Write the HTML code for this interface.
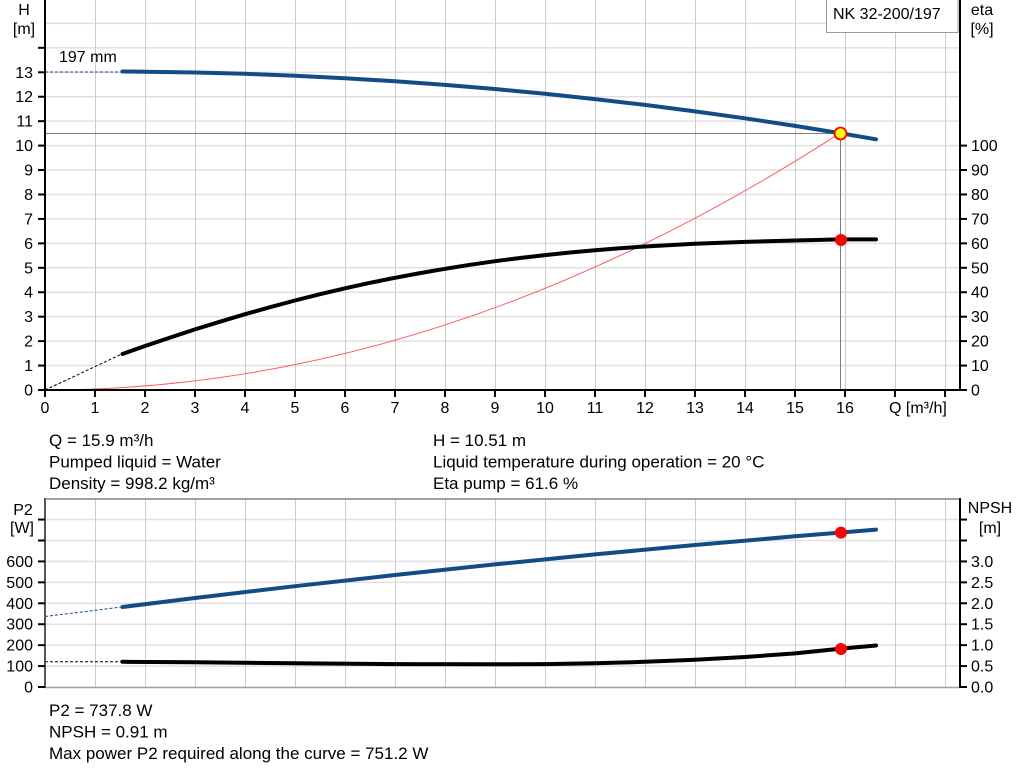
<!DOCTYPE html>
<html>
<head>
<meta charset="utf-8">
<style>
html,body{margin:0;padding:0;background:#fff;}
svg{display:block;}
text{font-family:"Liberation Sans",Arial,sans-serif;fill:#000;}
.t{font-size:16px;}
.i{font-size:17px;}
</style>
</head>
<body>
<svg width="1024" height="781" viewBox="0 0 1024 781" xmlns="http://www.w3.org/2000/svg">
<!-- ===== TOP CHART ===== -->
<g stroke="#e0e0e0" stroke-width="1.5">
<line x1="45" x2="960" y1="365.56" y2="365.56"/>
<line x1="45" x2="960" y1="341.12" y2="341.12"/>
<line x1="45" x2="960" y1="316.68" y2="316.68"/>
<line x1="45" x2="960" y1="292.24" y2="292.24"/>
<line x1="45" x2="960" y1="267.8" y2="267.8"/>
<line x1="45" x2="960" y1="243.36" y2="243.36"/>
<line x1="45" x2="960" y1="218.92" y2="218.92"/>
<line x1="45" x2="960" y1="194.48" y2="194.48"/>
<line x1="45" x2="960" y1="170.04" y2="170.04"/>
<line x1="45" x2="960" y1="145.6" y2="145.6"/>
<line x1="45" x2="960" y1="121.16" y2="121.16"/>
<line x1="45" x2="960" y1="96.72" y2="96.72"/>
<line x1="45" x2="960" y1="72.28" y2="72.28"/>
<line x1="45" x2="960" y1="47.84" y2="47.84"/>
<line x1="45" x2="960" y1="23.4" y2="23.4"/>
</g>
<g stroke="#cccccc" stroke-width="1">
<line x1="95.5" x2="95.5" y1="0" y2="390"/>
<line x1="145.5" x2="145.5" y1="0" y2="390"/>
<line x1="195.5" x2="195.5" y1="0" y2="390"/>
<line x1="245.5" x2="245.5" y1="0" y2="390"/>
<line x1="295.5" x2="295.5" y1="0" y2="390"/>
<line x1="345.5" x2="345.5" y1="0" y2="390"/>
<line x1="395.5" x2="395.5" y1="0" y2="390"/>
<line x1="445.5" x2="445.5" y1="0" y2="390"/>
<line x1="495.5" x2="495.5" y1="0" y2="390"/>
<line x1="545.5" x2="545.5" y1="0" y2="390"/>
<line x1="595.5" x2="595.5" y1="0" y2="390"/>
<line x1="645.5" x2="645.5" y1="0" y2="390"/>
<line x1="695.5" x2="695.5" y1="0" y2="390"/>
<line x1="745.5" x2="745.5" y1="0" y2="390"/>
<line x1="795.5" x2="795.5" y1="0" y2="390"/>
<line x1="845.5" x2="845.5" y1="0" y2="390"/>
<line x1="895.5" x2="895.5" y1="0" y2="390"/>
<line x1="945.5" x2="945.5" y1="0" y2="390"/>
</g>

<!-- operating point guide lines -->
<line x1="45" x2="840" y1="133.5" y2="133.5" stroke="#808080" stroke-width="1"/>
<line x1="840.5" x2="840.5" y1="133" y2="390" stroke="#808080" stroke-width="1"/>

<!-- system curve -->
<path d="M45,390 Q442.5,390 840,133.1" fill="none" stroke="#ff5a5a" stroke-width="1"/>

<!-- H curve -->
<line x1="45" y1="72" x2="122" y2="72" stroke="#134b86" stroke-width="1" stroke-dasharray="3,2"/>
<polyline fill="none" stroke="#134b86" stroke-width="4" stroke-linecap="round" stroke-linejoin="round"
points="122.5,71.5 145,71.7 195,72.5 245,73.8 295,75.8 345,78.2 395,81.3 445,84.9 495,89.05 545,93.8 595,99.1 645,104.9 695,111.4 745,118.3 795,125.9 840,133.1 876,139.3"/>

<!-- eta curve -->
<line x1="45" y1="390" x2="122" y2="354" stroke="#000" stroke-width="1" stroke-dasharray="3,2"/>
<polyline fill="none" stroke="#000" stroke-width="4" stroke-linecap="round" stroke-linejoin="round"
points="122.5,354 145,346 170,337.6 195,329.4 220,321.7 245,314.2 270,307.2 295,300.5 320,294.2 345,288.3 370,282.8 395,277.8 420,273.1 445,268.8 470,264.8 495,261.2 520,258 545,255.1 570,252.5 595,250.2 620,248.2 645,246.5 695,243.8 745,241.9 795,240.5 840,239.4 876,239.4"/>

<circle cx="841" cy="240" r="6" fill="#ff0000"/>
<circle cx="840.5" cy="133.5" r="6" fill="#ffff00" stroke="#ff0000" stroke-width="1.8"/>

<!-- axes -->
<line x1="45" y1="0" x2="45" y2="391" stroke="#000" stroke-width="2"/>
<line x1="44" y1="390" x2="961" y2="390" stroke="#000" stroke-width="2"/>
<line x1="960" y1="0" x2="960" y2="391" stroke="#000" stroke-width="2"/>

<!-- left ticks -->
<g stroke="#000" stroke-width="2">
<line x1="38" x2="45" y1="390" y2="390"/>
<line x1="38" x2="45" y1="365.56" y2="365.56"/>
<line x1="38" x2="45" y1="341.12" y2="341.12"/>
<line x1="38" x2="45" y1="316.68" y2="316.68"/>
<line x1="38" x2="45" y1="292.24" y2="292.24"/>
<line x1="38" x2="45" y1="267.8" y2="267.8"/>
<line x1="38" x2="45" y1="243.36" y2="243.36"/>
<line x1="38" x2="45" y1="218.92" y2="218.92"/>
<line x1="38" x2="45" y1="194.48" y2="194.48"/>
<line x1="38" x2="45" y1="170.04" y2="170.04"/>
<line x1="38" x2="45" y1="145.6" y2="145.6"/>
<line x1="38" x2="45" y1="121.16" y2="121.16"/>
<line x1="38" x2="45" y1="96.72" y2="96.72"/>
<line x1="38" x2="45" y1="72.28" y2="72.28"/>
<line x1="38" x2="45" y1="47.84" y2="47.84"/>
<!-- right ticks -->
<line x1="960" x2="967" y1="390" y2="390"/>
<line x1="960" x2="967" y1="365.56" y2="365.56"/>
<line x1="960" x2="967" y1="341.12" y2="341.12"/>
<line x1="960" x2="967" y1="316.68" y2="316.68"/>
<line x1="960" x2="967" y1="292.24" y2="292.24"/>
<line x1="960" x2="967" y1="267.8" y2="267.8"/>
<line x1="960" x2="967" y1="243.36" y2="243.36"/>
<line x1="960" x2="967" y1="218.92" y2="218.92"/>
<line x1="960" x2="967" y1="194.48" y2="194.48"/>
<line x1="960" x2="967" y1="170.04" y2="170.04"/>
<line x1="960" x2="967" y1="145.6" y2="145.6"/>
<!-- x ticks -->
<line x1="45" x2="45" y1="390" y2="397"/>
<line x1="95" x2="95" y1="390" y2="397"/>
<line x1="145" x2="145" y1="390" y2="397"/>
<line x1="195" x2="195" y1="390" y2="397"/>
<line x1="245" x2="245" y1="390" y2="397"/>
<line x1="295" x2="295" y1="390" y2="397"/>
<line x1="345" x2="345" y1="390" y2="397"/>
<line x1="395" x2="395" y1="390" y2="397"/>
<line x1="445" x2="445" y1="390" y2="397"/>
<line x1="495" x2="495" y1="390" y2="397"/>
<line x1="545" x2="545" y1="390" y2="397"/>
<line x1="595" x2="595" y1="390" y2="397"/>
<line x1="645" x2="645" y1="390" y2="397"/>
<line x1="695" x2="695" y1="390" y2="397"/>
<line x1="745" x2="745" y1="390" y2="397"/>
<line x1="795" x2="795" y1="390" y2="397"/>
<line x1="845" x2="845" y1="390" y2="397"/>
<line x1="895" x2="895" y1="390" y2="397"/>
<line x1="945" x2="945" y1="390" y2="397"/>
</g>

<!-- left labels -->
<g class="t" text-anchor="end">
<text x="33" y="395.5">0</text>
<text x="33" y="371">1</text>
<text x="33" y="346.6">2</text>
<text x="33" y="322.2">3</text>
<text x="33" y="297.7">4</text>
<text x="33" y="273.3">5</text>
<text x="33" y="248.9">6</text>
<text x="33" y="224.4">7</text>
<text x="33" y="200">8</text>
<text x="33" y="175.5">9</text>
<text x="33" y="151.1">10</text>
<text x="33" y="126.7">11</text>
<text x="33" y="102.2">12</text>
<text x="33" y="77.8">13</text>
</g>
<g class="t">
<text x="971" y="395.5">0</text>
<text x="971" y="371">10</text>
<text x="971" y="346.6">20</text>
<text x="971" y="322.2">30</text>
<text x="971" y="297.7">40</text>
<text x="971" y="273.3">50</text>
<text x="971" y="248.9">60</text>
<text x="971" y="224.4">70</text>
<text x="971" y="200">80</text>
<text x="971" y="175.5">90</text>
<text x="971" y="151.1">100</text>
</g>
<g class="t" text-anchor="middle">
<text x="45" y="413">0</text>
<text x="95" y="413">1</text>
<text x="145" y="413">2</text>
<text x="195" y="413">3</text>
<text x="245" y="413">4</text>
<text x="295" y="413">5</text>
<text x="345" y="413">6</text>
<text x="395" y="413">7</text>
<text x="445" y="413">8</text>
<text x="495" y="413">9</text>
<text x="545" y="413">10</text>
<text x="595" y="413">11</text>
<text x="645" y="413">12</text>
<text x="695" y="413">13</text>
<text x="745" y="413">14</text>
<text x="795" y="413">15</text>
<text x="845" y="413">16</text>
</g>
<text class="t" x="889" y="413">Q [m³/h]</text>

<text class="t" x="24" y="15" text-anchor="middle">H</text>
<text class="t" x="24" y="34" text-anchor="middle">[m]</text>
<text class="t" x="982" y="15" text-anchor="middle">eta</text>
<text class="t" x="982" y="34" text-anchor="middle">[%]</text>
<text class="t" x="59" y="62">197 mm</text>

<rect x="826.5" y="-1" width="131.5" height="33.5" fill="#fff" stroke="#999" stroke-width="1"/>
<text class="t" x="833" y="19">NK 32-200/197</text>

<!-- info text top -->
<g class="i">
<text x="49" y="446">Q = 15.9 m³/h</text>
<text x="49" y="467.5">Pumped liquid = Water</text>
<text x="49" y="489">Density = 998.2 kg/m³</text>
<text x="433" y="446">H = 10.51 m</text>
<text x="433" y="467.5">Liquid temperature during operation = 20 °C</text>
<text x="433" y="489">Eta pump = 61.6 %</text>
</g>

<!-- ===== BOTTOM CHART ===== -->
<g stroke="#e0e0e0" stroke-width="1.5">
<line x1="45" x2="960" y1="666.07" y2="666.07"/>
<line x1="45" x2="960" y1="645.14" y2="645.14"/>
<line x1="45" x2="960" y1="624.21" y2="624.21"/>
<line x1="45" x2="960" y1="603.28" y2="603.28"/>
<line x1="45" x2="960" y1="582.35" y2="582.35"/>
<line x1="45" x2="960" y1="561.42" y2="561.42"/>
<line x1="45" x2="960" y1="540.49" y2="540.49"/>
<line x1="45" x2="960" y1="519.56" y2="519.56"/>
</g>
<g stroke="#cccccc" stroke-width="1">
<line x1="95.5" x2="95.5" y1="499" y2="687"/>
<line x1="145.5" x2="145.5" y1="499" y2="687"/>
<line x1="195.5" x2="195.5" y1="499" y2="687"/>
<line x1="245.5" x2="245.5" y1="499" y2="687"/>
<line x1="295.5" x2="295.5" y1="499" y2="687"/>
<line x1="345.5" x2="345.5" y1="499" y2="687"/>
<line x1="395.5" x2="395.5" y1="499" y2="687"/>
<line x1="445.5" x2="445.5" y1="499" y2="687"/>
<line x1="495.5" x2="495.5" y1="499" y2="687"/>
<line x1="545.5" x2="545.5" y1="499" y2="687"/>
<line x1="595.5" x2="595.5" y1="499" y2="687"/>
<line x1="645.5" x2="645.5" y1="499" y2="687"/>
<line x1="695.5" x2="695.5" y1="499" y2="687"/>
<line x1="745.5" x2="745.5" y1="499" y2="687"/>
<line x1="795.5" x2="795.5" y1="499" y2="687"/>
<line x1="845.5" x2="845.5" y1="499" y2="687"/>
<line x1="895.5" x2="895.5" y1="499" y2="687"/>
<line x1="945.5" x2="945.5" y1="499" y2="687"/>
</g>
<line x1="45" y1="499" x2="960" y2="499" stroke="#a0a0a0" stroke-width="2"/>
<line x1="45" y1="687.5" x2="960" y2="687.5" stroke="#a0a0a0" stroke-width="1.5"/>

<!-- P2 curve -->
<line x1="45" y1="616.5" x2="122" y2="607" stroke="#134b86" stroke-width="1" stroke-dasharray="3,2"/>
<polyline fill="none" stroke="#134b86" stroke-width="4" stroke-linecap="round" stroke-linejoin="round"
points="122.5,607 195,598 295,586.2 395,575 495,564.4 595,554.4 695,545.05 795,536.3 840,532.6 876,529.6"/>

<!-- NPSH curve -->
<line x1="45" y1="661.8" x2="122" y2="661.8" stroke="#000" stroke-width="1" stroke-dasharray="3,2"/>
<polyline fill="none" stroke="#000" stroke-width="4" stroke-linecap="round" stroke-linejoin="round"
points="122.5,661.8 195,662.2 295,663.3 395,664.1 495,664.3 545,664.1 595,663.3 645,661.8 695,659.7 745,657 795,653.4 840,648.8 876,645.5"/>

<circle cx="841" cy="532.6" r="6" fill="#ff0000"/>
<circle cx="841" cy="649" r="6" fill="#ff0000"/>

<line x1="45" y1="498" x2="45" y2="688" stroke="#555" stroke-width="2"/>
<line x1="960" y1="498" x2="960" y2="688" stroke="#000" stroke-width="2"/>

<g stroke="#000" stroke-width="2">
<line x1="38" x2="45" y1="687" y2="687"/>
<line x1="38" x2="45" y1="666.07" y2="666.07"/>
<line x1="38" x2="45" y1="645.14" y2="645.14"/>
<line x1="38" x2="45" y1="624.21" y2="624.21"/>
<line x1="38" x2="45" y1="603.28" y2="603.28"/>
<line x1="38" x2="45" y1="582.35" y2="582.35"/>
<line x1="38" x2="45" y1="561.42" y2="561.42"/>
<line x1="38" x2="45" y1="540.49" y2="540.49"/>
<line x1="38" x2="45" y1="519.56" y2="519.56"/>
<line x1="960" x2="967" y1="687" y2="687"/>
<line x1="960" x2="967" y1="666.07" y2="666.07"/>
<line x1="960" x2="967" y1="645.14" y2="645.14"/>
<line x1="960" x2="967" y1="624.21" y2="624.21"/>
<line x1="960" x2="967" y1="603.28" y2="603.28"/>
<line x1="960" x2="967" y1="582.35" y2="582.35"/>
<line x1="960" x2="967" y1="561.42" y2="561.42"/>
<line x1="960" x2="967" y1="540.49" y2="540.49"/>
<line x1="960" x2="967" y1="519.56" y2="519.56"/>
</g>

<g class="t" text-anchor="end">
<text x="33" y="692.5">0</text>
<text x="33" y="671.6">100</text>
<text x="33" y="650.6">200</text>
<text x="33" y="629.7">300</text>
<text x="33" y="608.8">400</text>
<text x="33" y="587.9">500</text>
<text x="33" y="566.9">600</text>
</g>
<g class="t">
<text x="971" y="692.5">0.0</text>
<text x="971" y="671.6">0.5</text>
<text x="971" y="650.6">1.0</text>
<text x="971" y="629.7">1.5</text>
<text x="971" y="608.8">2.0</text>
<text x="971" y="587.9">2.5</text>
<text x="971" y="566.9">3.0</text>
</g>
<text class="t" x="23" y="515" text-anchor="middle">P2</text>
<text class="t" x="22" y="533" text-anchor="middle">[W]</text>
<text class="t" x="990" y="513" text-anchor="middle">NPSH</text>
<text class="t" x="990" y="533" text-anchor="middle">[m]</text>

<g class="i">
<text x="49" y="716">P2 = 737.8 W</text>
<text x="49" y="737.5">NPSH = 0.91 m</text>
<text x="49" y="759">Max power P2 required along the curve = 751.2 W</text>
</g>
</svg>
</body>
</html>
